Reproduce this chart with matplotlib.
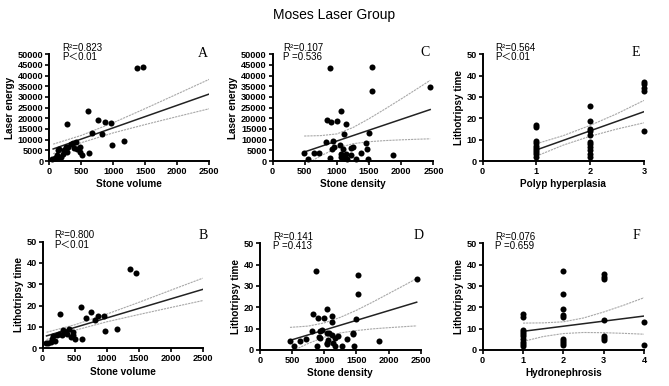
import matplotlib
matplotlib.use("Agg")
import matplotlib.pyplot as plt

OUTPUT_IMAGE = "out.png"

plt.rcParams['font.family'] = ['Liberation Sans', 'Noto Sans CJK SC', 'DejaVu Sans']

# A: stone volume vs laser energy
vol_a = [47, 89, 115, 141, 151, 131, 183, 219, 224, 256, 271, 297, 339, 375, 417, 391, 427,
         474, 479, 516, 625, 277, 609, 766, 866, 959, 672, 828, 980, 1162, 1375, 1459]
energy_a = [780, 1240, 2800, 5150, 5780, 1720, 2030, 3280, 5150, 6400, 4060, 6700, 7800, 8590, 9060,
            5940, 5470, 6700, 4370, 2650, 3590, 17500, 23400, 19400, 18400, 18000, 13300, 12800,
            7650, 9370, 43400, 44200]
fit_x_a = [60, 2500]
fit_y_a = [5640, 31400]
band_x_a = [60, 500, 1000, 1500, 2000, 2500]
band_hi_a = [7890, 11990, 17950, 24600, 31420, 38300]
band_lo_a = [3390, 8590, 13190, 17100, 20840, 24500]

# B: stone volume vs lithotripsy time
vol_b = [52, 88, 125, 140, 166, 192, 229, 260, 271, 296, 322, 348, 375, 416, 442, 468, 479, 505,
         620, 604, 672, 760, 823, 865, 958, 979, 1156, 1370, 1458]
time_b = [2.3, 2.3, 2.8, 4.4, 5.9, 3.4, 6.2, 6.9, 16.1, 6.2, 8.7, 7.8, 6.9, 9.0, 5.3, 7.5, 6.2, 4.4,
          4.2, 19.2, 14.2, 17.2, 13.1, 15.2, 15.2, 8.1, 9.2, 37.0, 35.2]
fit_x_b = [60, 2500]
fit_y_b = [5.8, 27.6]
band_x_b = [60, 500, 1000, 1500, 2000, 2500]
band_hi_b = [7.5, 11.0, 16.0, 21.5, 27.2, 32.85]
band_lo_b = [4.1, 8.4, 12.4, 15.8, 19.1, 22.35]

# C: stone density vs laser energy
dens_c = [493, 550, 648, 726, 892, 840, 908, 996, 1063, 1141, 1115, 830, 944, 918, 954, 892, 1048,
          1100, 1058, 1058, 1141, 1110, 1151, 1224, 1255, 1214, 1297, 1369, 1447, 1463, 1478, 1499,
          1551, 1546, 1867, 2448]
energy_c = [3900, 780, 3600, 3900, 43600, 19400, 18100, 18600, 23400, 17500, 12800, 8900, 9200,
            5800, 6700, 1560, 7700, 5800, 3100, 2000, 3440, 1560, 780, 5900, 6700, 2800, 940, 3900,
            8300, 5500, 780, 13300, 44200, 32800, 2800, 34800]
fit_x_c = [490, 2450]
fit_y_c = [4200, 24100]
band_x_c = [490, 750, 1000, 1250, 1500, 1750, 2000, 2250, 2450]
band_hi_c = [11700, 11900, 12700, 15700, 19850, 24400, 29100, 33900, 37800]
band_lo_c = [-2060, 2480, 6045, 8110, 9050, 9570, 9920, 10200, 10400]

# D: stone density vs lithotripsy time
dens_d = [467, 529, 622, 716, 814, 830, 897, 960, 934, 918, 934, 892, 871, 991, 1037, 1048, 1074,
          1115, 1037, 1063, 1048, 1131, 1126, 1126, 1167, 1167, 1219, 1281, 1349, 1452, 1452, 1462,
          1488, 1520, 1530, 1846, 2438]
time_d = [4.1, 2.0, 4.1, 5.2, 9.1, 17.0, 15.0, 9.4, 9.1, 5.9, 5.5, 2.0, 37.0, 15.0, 8.1, 19.1, 7.8,
          7.0, 3.4, 4.7, 2.8, 3.1, 13.3, 16.0, 5.6, 2.0, 6.7, 2.0, 5.3, 7.3, 8.1, 2.0, 14.4, 26.1,
          35.2, 4.1, 33.1]
fit_x_d = [467, 2438]
fit_y_d = [4.5, 22.4]
band_x_d = [467, 750, 1000, 1250, 1500, 1750, 2000, 2250, 2438]
band_hi_d = [10.6, 11.2, 12.7, 15.3, 18.6, 22.4, 26.4, 30.4, 33.5]
band_lo_d = [-1.0, 3.05, 6.0, 8.0, 9.1, 9.9, 10.45, 10.95, 11.3]

# E: polyp hyperplasia vs lithotripsy time
polyp_e = [1, 1, 1, 1, 1, 1, 1, 1, 1, 1,
           2, 2, 2, 2, 2, 2, 2, 2, 2, 2, 2,
           3, 3, 3, 3, 3]
time_e = [16.9, 15.8, 9.4, 8.3, 7.2, 6.2, 5.2, 4.1, 3.1, 2.0,
          25.9, 18.9, 15.0, 14.1, 12.2, 9.0, 8.0, 6.7, 5.2, 3.3, 2.0,
          37.2, 35.9, 34.1, 32.8, 14.2]
fit_x_e = [1, 3]
fit_y_e = [5.2, 23.1]
band_x_e = [1, 1.5, 2, 2.5, 3]
band_hi_e = [8.1, 11.9, 16.7, 22.2, 28.4]
band_lo_e = [2.3, 7.46, 11.6, 15.0, 17.9]

# F: hydronephrosis vs lithotripsy time
hydro_f = [1, 1, 1, 1, 1, 1, 1, 1, 1, 1,
           2, 2, 2, 2, 2, 2, 2, 2, 2,
           3, 3, 3, 3, 3, 3, 3,
           4, 4]
time_f = [16.9, 15.3, 9.4, 8.4, 7.5, 6.6, 5.0, 3.9, 2.8, 1.9,
          37.2, 26.1, 19.2, 16.4, 15.5, 5.0, 4.1, 3.1, 2.2,
          35.5, 34.4, 33.1, 14.2, 6.7, 5.5, 4.8,
          13.1, 2.3]
fit_x_f = [1, 4]
fit_y_f = [8.75, 15.9]
band_x_f = [1, 1.5, 2, 2.5, 3, 3.5, 4]
band_hi_f = [12.6, 12.7, 13.2, 15.0, 17.8, 21.0, 24.5]
band_lo_f = [4.0, 6.3, 7.7, 8.2, 8.1, 7.8, 7.4]

energy_ticks = [0, 5000, 10000, 15000, 20000, 25000, 30000, 35000, 40000, 45000, 50000]
time_ticks = [0, 10, 20, 30, 40, 50]
size_ticks = [0, 500, 1000, 1500, 2000, 2500]


def panel(ax, x, y, fx, fy, bx, blo, bhi, xlabel, ylabel, xticks, yticks,
          r2, p, letter, text_x, letter_x, letter_y):
    ax.plot(bx, bhi, color="#a8a8a8", lw=0.8, ls=(0, (2, 0.8)))
    ax.plot(bx, blo, color="#a8a8a8", lw=0.8, ls=(0, (2, 0.8)))
    ax.plot(fx, fy, color="#222222", lw=1.1)
    ax.scatter(x, y, s=19, color="black", zorder=3, clip_on=False, linewidths=0)
    ax.set_xlim(xticks[0], xticks[-1])
    ax.set_ylim(yticks[0], yticks[-1])
    ax.set_xticks(xticks)
    ax.set_yticks(yticks)
    for s in ["top", "right"]:
        ax.spines[s].set_visible(False)
    for s in ["left", "bottom"]:
        ax.spines[s].set_linewidth(1.4)
    ax.tick_params(direction="out", length=2.8, width=1.2, labelsize=6.6, pad=1.5)
    for lbl in ax.get_xticklabels() + ax.get_yticklabels():
        lbl.set_fontweight("bold")
    ax.set_xlabel(xlabel, fontsize=7.2, fontweight="bold", labelpad=2.5)
    ax.set_ylabel(ylabel, fontsize=7.2, fontweight="bold", labelpad=2)
    ax.text(text_x, 1.035, r2, transform=ax.transAxes, fontsize=7, va="baseline", ha="left")
    ax.text(text_x, 0.945, p, transform=ax.transAxes, fontsize=7, va="baseline", ha="left")
    ax.text(letter_x, letter_y, letter, transform=ax.transAxes, fontsize=10,
            family="Liberation Serif", va="baseline", ha="right")


fig = plt.figure(figsize=(6.69, 3.86), dpi=100)
fig.text(0.5, 0.962, "Moses Laser Group", ha="center", va="center", fontsize=10)

ax_a = fig.add_axes([0.0737, 0.5829, 0.2392, 0.2764])
ax_c = fig.add_axes([0.4076, 0.5829, 0.2402, 0.2764])
ax_e = fig.add_axes([0.7215, 0.5829, 0.2411, 0.2764])
ax_b = fig.add_axes([0.0638, 0.0977, 0.2392, 0.2764])
ax_d = fig.add_axes([0.3886, 0.0933, 0.2402, 0.2764])
ax_f = fig.add_axes([0.7215, 0.0933, 0.2411, 0.2764])

panel(ax_a, vol_a, energy_a, fit_x_a, fit_y_a, band_x_a, band_lo_a, band_hi_a,
      "Stone volume", "Laser energy", size_ticks, energy_ticks,
      "R²=0.823", "P＜0.01", "A", 0.078, 0.992, 0.975)
panel(ax_c, dens_c, energy_c, fit_x_c, fit_y_c, band_x_c, band_lo_c, band_hi_c,
      "Stone density", "Laser energy", size_ticks, energy_ticks,
      "R²=0.107", "P =0.536", "C", 0.066, 0.979, 0.98)
panel(ax_e, polyp_e, time_e, fit_x_e, fit_y_e, band_x_e, band_lo_e, band_hi_e,
      "Polyp hyperplasia", "Lithotripsy time", [0, 1, 2, 3], time_ticks,
      "R²=0.564", "P＜0.01", "E", 0.076, 0.975, 0.98)
panel(ax_b, vol_b, time_b, fit_x_b, fit_y_b, band_x_b, band_lo_b, band_hi_b,
      "Stone volume", "Lithotripsy time", size_ticks, time_ticks,
      "R²=0.800", "P＜0.01", "B", 0.0725, 1.03, 1.02)
panel(ax_d, dens_d, time_d, fit_x_d, fit_y_d, band_x_d, band_lo_d, band_hi_d,
      "Stone density", "Lithotripsy time", size_ticks, time_ticks,
      "R²=0.141", "P =0.413", "D", 0.083, 1.02, 1.04)
panel(ax_f, hydro_f, time_f, fit_x_f, fit_y_f, band_x_f, band_lo_f, band_hi_f,
      "Hydronephrosis", "Lithotripsy time", [0, 1, 2, 3, 4], time_ticks,
      "R²=0.076", "P =0.659", "F", 0.076, 0.975, 1.04)

fig.savefig(OUTPUT_IMAGE, dpi=100)
plt.close(fig)
